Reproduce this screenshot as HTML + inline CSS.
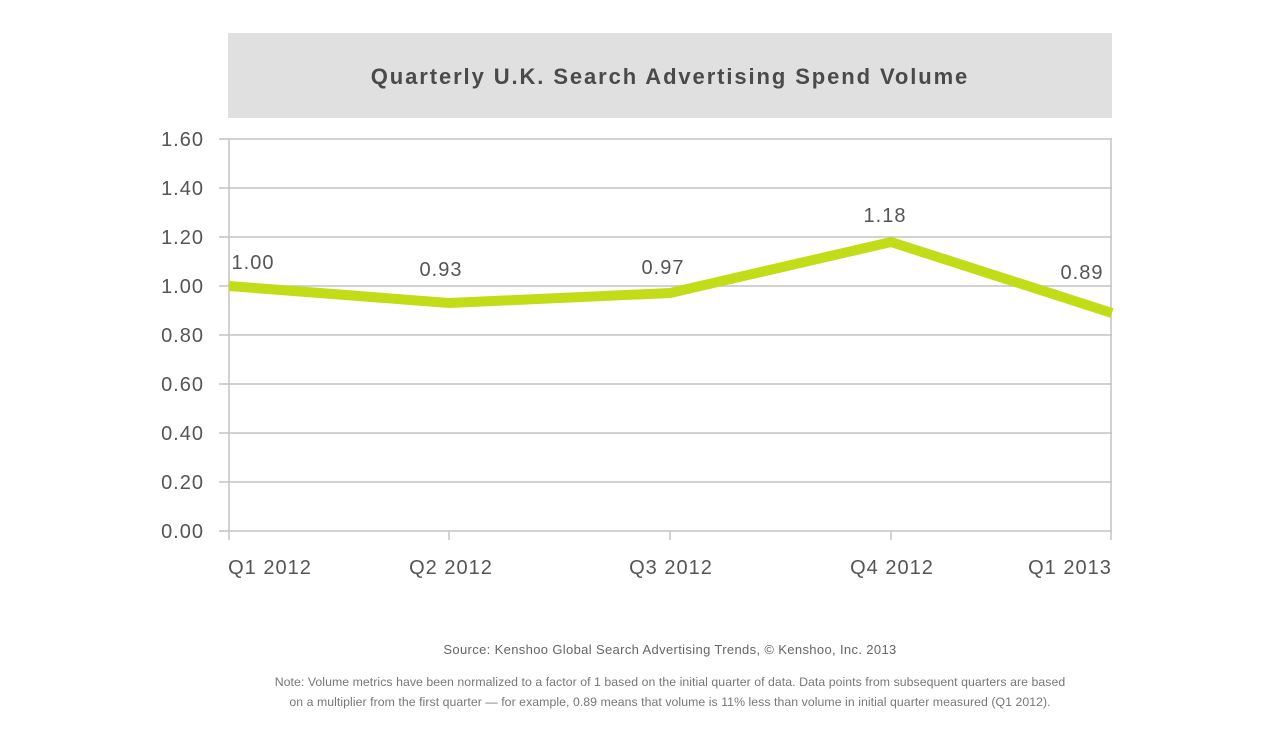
<!DOCTYPE html>
<html><head><meta charset="utf-8"><style>
html,body{margin:0;padding:0;background:#fff;}
svg{display:block;font-family:"Liberation Sans",sans-serif;}
</style></head><body>
<svg width="1276" height="751" viewBox="0 0 1276 751">
<rect x="228" y="33" width="884" height="85" fill="#e0e0e0"/>
<text x="670" y="84" text-anchor="middle" font-size="22" font-weight="bold" fill="#4a4a4a" letter-spacing="1.9">Quarterly U.K. Search Advertising Spend Volume</text>
<g stroke="#c4c4c4" stroke-width="1.5" fill="none">
<line x1="219" y1="139" x2="1112" y2="139"/>
<line x1="219" y1="188" x2="1112" y2="188"/>
<line x1="219" y1="237" x2="1112" y2="237"/>
<line x1="219" y1="286" x2="1112" y2="286"/>
<line x1="219" y1="335" x2="1112" y2="335"/>
<line x1="219" y1="384" x2="1112" y2="384"/>
<line x1="219" y1="433" x2="1112" y2="433"/>
<line x1="219" y1="482" x2="1112" y2="482"/>
<line x1="219" y1="531" x2="1112" y2="531"/>
<line x1="229" y1="139" x2="229" y2="540"/>
<line x1="1111" y1="139" x2="1111" y2="540"/>
<line x1="449" y1="531" x2="449" y2="540"/>
<line x1="670" y1="531" x2="670" y2="540"/>
<line x1="891" y1="531" x2="891" y2="540"/>
</g>
<g font-size="20" fill="#555" text-anchor="end" letter-spacing="1">
<text x="204" y="146">1.60</text><text x="204" y="195">1.40</text><text x="204" y="244">1.20</text>
<text x="204" y="293">1.00</text><text x="204" y="342">0.80</text><text x="204" y="391">0.60</text>
<text x="204" y="440">0.40</text><text x="204" y="489">0.20</text><text x="204" y="538">0.00</text>
</g>
<g font-size="20" fill="#555" text-anchor="middle" letter-spacing="1">
<text x="270" y="574">Q1 2012</text><text x="451" y="574">Q2 2012</text><text x="671" y="574">Q3 2012</text>
<text x="892" y="574">Q4 2012</text><text x="1070" y="574">Q1 2013</text>
</g>
<polyline points="229,286 449,303 670,293 891,242 1112,313" fill="none" stroke="#c2dc18" stroke-width="10" stroke-linejoin="miter"/>
<g font-size="20" fill="#555" text-anchor="middle" letter-spacing="1">
<text x="253" y="269">1.00</text><text x="441" y="276">0.93</text><text x="663" y="274">0.97</text>
<text x="885" y="222">1.18</text><text x="1082" y="279">0.89</text>
</g>
<text x="670" y="654" text-anchor="middle" font-size="13" fill="#666" letter-spacing="0.35">Source: Kenshoo Global Search Advertising Trends, © Kenshoo, Inc. 2013</text>
<text x="670" y="686" text-anchor="middle" font-size="12.3" fill="#777" letter-spacing="0.05">Note: Volume metrics have been normalized to a factor of 1 based on the initial quarter of data. Data points from subsequent quarters are based</text>
<text x="670" y="706" text-anchor="middle" font-size="12.3" fill="#777" letter-spacing="0.05">on a multiplier from the first quarter — for example, 0.89 means that volume is 11% less than volume in initial quarter measured (Q1 2012).</text>
</svg>
</body></html>
